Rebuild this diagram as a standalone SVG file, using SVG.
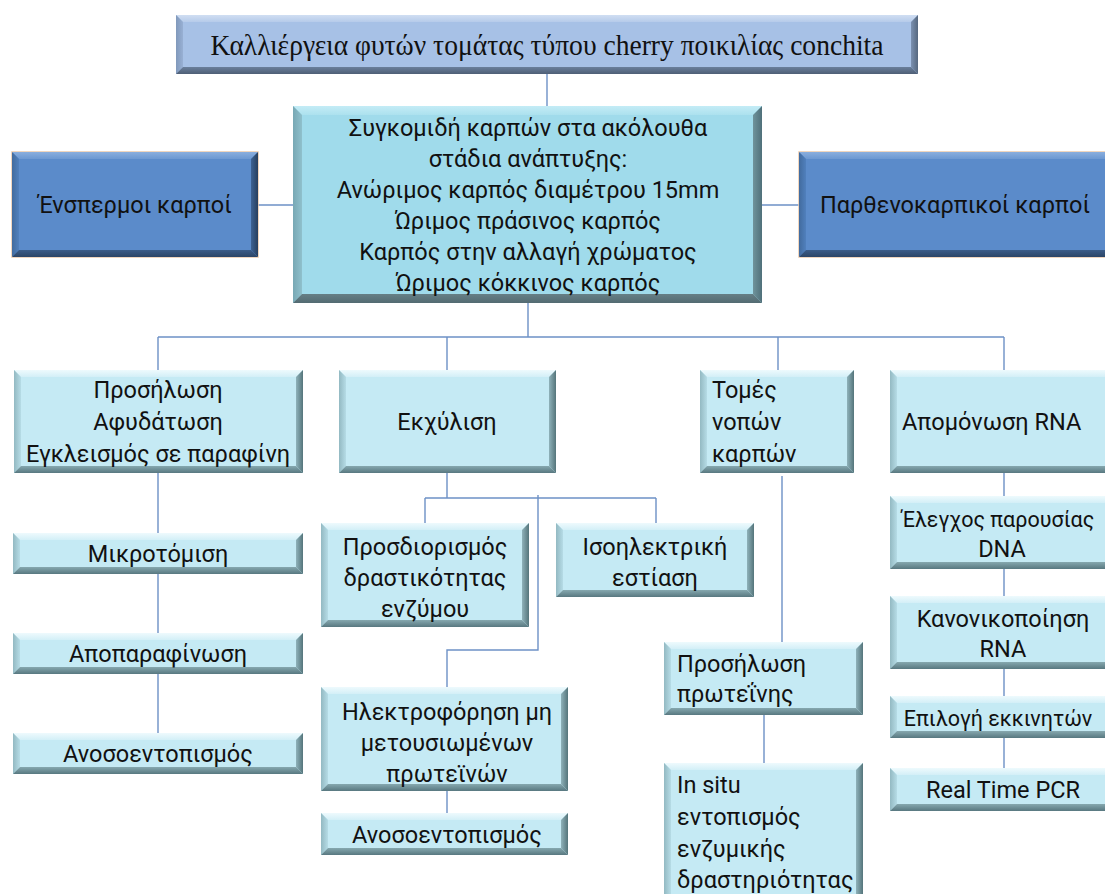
<svg xmlns="http://www.w3.org/2000/svg" width="1105" height="894" viewBox="0 0 1105 894">
<defs>
<linearGradient id="lT" x1="0" y1="0" x2="0" y2="1"><stop offset="0" stop-color="#eefafd"/><stop offset="1" stop-color="#d3eff7"/></linearGradient>
<linearGradient id="lL" x1="0" y1="0" x2="1" y2="0"><stop offset="0" stop-color="#93b9c2"/><stop offset="1" stop-color="#b6dce6"/></linearGradient>
<linearGradient id="lR" x1="0" y1="0" x2="1" y2="0"><stop offset="0" stop-color="#8fb2ba"/><stop offset="1" stop-color="#55757b"/></linearGradient>
<linearGradient id="lB" x1="0" y1="0" x2="0" y2="1"><stop offset="0" stop-color="#86a8af"/><stop offset="1" stop-color="#587880"/></linearGradient>
<linearGradient id="cT" x1="0" y1="0" x2="0" y2="1"><stop offset="0" stop-color="#c4ecf6"/><stop offset="1" stop-color="#ace1ee"/></linearGradient>
<linearGradient id="cL" x1="0" y1="0" x2="1" y2="0"><stop offset="0" stop-color="#78a8b4"/><stop offset="1" stop-color="#8fc0cc"/></linearGradient>
<linearGradient id="cR" x1="0" y1="0" x2="1" y2="0"><stop offset="0" stop-color="#6f939b"/><stop offset="1" stop-color="#50707a"/></linearGradient>
<linearGradient id="cB" x1="0" y1="0" x2="0" y2="1"><stop offset="0" stop-color="#667f86"/><stop offset="1" stop-color="#536b72"/></linearGradient>
<linearGradient id="tT" x1="0" y1="0" x2="0" y2="1"><stop offset="0" stop-color="#d0def2"/><stop offset="1" stop-color="#b6cbea"/></linearGradient>
<linearGradient id="tL" x1="0" y1="0" x2="1" y2="0"><stop offset="0" stop-color="#8199bb"/><stop offset="1" stop-color="#98b0d4"/></linearGradient>
<linearGradient id="tR" x1="0" y1="0" x2="1" y2="0"><stop offset="0" stop-color="#7b91b1"/><stop offset="1" stop-color="#56687f"/></linearGradient>
<linearGradient id="tB" x1="0" y1="0" x2="0" y2="1"><stop offset="0" stop-color="#6a7f9c"/><stop offset="1" stop-color="#4f5f76"/></linearGradient>
<linearGradient id="dT" x1="0" y1="0" x2="0" y2="1"><stop offset="0" stop-color="#8aaedd"/><stop offset="1" stop-color="#6c98d2"/></linearGradient>
<linearGradient id="dL" x1="0" y1="0" x2="1" y2="0"><stop offset="0" stop-color="#426b9e"/><stop offset="1" stop-color="#5080bd"/></linearGradient>
<linearGradient id="dR" x1="0" y1="0" x2="1" y2="0"><stop offset="0" stop-color="#3e6394"/><stop offset="1" stop-color="#273f5e"/></linearGradient>
<linearGradient id="dB" x1="0" y1="0" x2="0" y2="1"><stop offset="0" stop-color="#3b5c88"/><stop offset="1" stop-color="#2c4566"/></linearGradient>
</defs>
<style>
.l .f{fill:#c5eaf4}.l .t{fill:url(#lT)}.l .le{fill:url(#lL)}.l .r{fill:url(#lR)}.l .b{fill:url(#lB)}
.c .f{fill:#a0dbeb}.c .t{fill:url(#cT)}.c .le{fill:url(#cL)}.c .r{fill:url(#cR)}.c .b{fill:url(#cB)}
.tp .f{fill:#a7c1e6}.tp .t{fill:url(#tT)}.tp .le{fill:url(#tL)}.tp .r{fill:url(#tR)}.tp .b{fill:url(#tB)}
.d .f{fill:#5b8bca;stroke:#ecc9a9;stroke-width:1.5}.d .t{fill:url(#dT)}.d .le{fill:url(#dL)}.d .r{fill:url(#dR)}.d .b{fill:url(#dB)}
text{font-family:Roboto,"Noto Sans",sans-serif;font-size:23.5px;fill:#111}
.ser{font-family:"Liberation Serif","DejaVu Serif",serif;font-size:29px}
.m{text-anchor:middle}
.sm{font-size:21.5px}
#connectors path{fill:none;stroke:#6d91c6;stroke-width:1.4}
</style>

<g id="connectors">
<path d="M547 74V106"/>
<path d="M258 205H293"/>
<path d="M762 205H799"/>
<path d="M528 303V337M158 337H1004M158 337V370M447 337V370M778 337V370M1004 337V370"/>
<path d="M158 473V533M158 574V633M158 674V733"/>
<path d="M447 473V498M425 498H656M425 498V523M656 498V523"/>
<path d="M538 495V650H447V687M447 791V813"/>
<path d="M782 476V642M764 715V763"/>
<path d="M1004 473V496M1004 569V596M1004 669V696M1004 738V768"/>
</g>

<g id="n-top" class="tp">
<g transform="translate(176,15)"><rect class="f" width="742" height="59"/><polygon class="t" points="0,0 742,0 735,7 7,7"/><polygon class="le" points="0,0 7,7 7,52 0,59"/><polygon class="r" points="742,0 742,59 735,52 735,7"/><polygon class="b" points="0,59 742,59 735,52 7,52"/></g>
<text class="ser m" x="547" y="55" textLength="673" lengthAdjust="spacingAndGlyphs">Καλλιέργεια φυτών τομάτας τύπου cherry ποικιλίας conchita</text>
</g>

<g id="n-center" class="c">
<g transform="translate(293,106)"><rect class="f" width="469" height="197"/><polygon class="t" points="0,0 469,0 460,9 9,9"/><polygon class="le" points="0,0 9,9 9,188 0,197"/><polygon class="r" points="469,0 469,197 460,188 460,9"/><polygon class="b" points="0,197 469,197 460,188 9,188"/></g>
<text class="m" x="528" y="136">Συγκομιδή καρπών στα ακόλουθα</text>
<text class="m" x="528" y="167">στάδια ανάπτυξης:</text>
<text class="m" x="528" y="198">Ανώριμος καρπός διαμέτρου 15mm</text>
<text class="m" x="528" y="229">Ώριμος πράσινος καρπός</text>
<text class="m" x="528" y="260">Καρπός στην αλλαγή χρώματος</text>
<text class="m" x="528" y="291">Ώριμος κόκκινος καρπός</text>
</g>

<g id="n-seeded" class="d">
<g transform="translate(12,152)"><rect class="f" width="246" height="105"/><polygon class="t" points="0,0 246,0 239,7 7,7"/><polygon class="le" points="0,0 7,7 7,98 0,105"/><polygon class="r" points="246,0 246,105 239,98 239,7"/><polygon class="b" points="0,105 246,105 239,98 7,98"/></g>
<text class="m" x="135" y="213">Ένσπερμοι καρποί</text>
</g>

<g id="n-parth" class="d">
<g transform="translate(799,152)"><rect class="f" width="316" height="105"/><polygon class="t" points="0,0 316,0 309,7 7,7"/><polygon class="le" points="0,0 7,7 7,98 0,105"/><polygon class="r" points="316,0 316,105 309,98 309,7"/><polygon class="b" points="0,105 316,105 309,98 7,98"/></g>
<text class="m" x="955" y="213">Παρθενοκαρπικοί καρποί</text>
</g>

<g id="n-fix" class="l">
<g transform="translate(14,370)"><rect class="f" width="289" height="103"/><polygon class="t" points="0,0 289,0 282,7 7,7"/><polygon class="le" points="0,0 7,7 7,96 0,103"/><polygon class="r" points="289,0 289,103 282,96 282,7"/><polygon class="b" points="0,103 289,103 282,96 7,96"/></g>
<text class="m" x="158" y="398">Προσήλωση</text>
<text class="m" x="158" y="430">Αφυδάτωση</text>
<text class="m" x="158" y="462">Εγκλεισμός σε παραφίνη</text>
</g>

<g id="n-extr" class="l">
<g transform="translate(339,370)"><rect class="f" width="217" height="103"/><polygon class="t" points="0,0 217,0 210,7 7,7"/><polygon class="le" points="0,0 7,7 7,96 0,103"/><polygon class="r" points="217,0 217,103 210,96 210,7"/><polygon class="b" points="0,103 217,103 210,96 7,96"/></g>
<text class="m" x="447" y="430">Εκχύλιση</text>
</g>

<g id="n-sect" class="l">
<g transform="translate(700,370)"><rect class="f" width="154" height="103"/><polygon class="t" points="0,0 154,0 147,7 7,7"/><polygon class="le" points="0,0 7,7 7,96 0,103"/><polygon class="r" points="154,0 154,103 147,96 147,7"/><polygon class="b" points="0,103 154,103 147,96 7,96"/></g>
<text x="712" y="398">Τομές</text>
<text x="712" y="430">νοπών</text>
<text x="712" y="462">καρπών</text>
</g>

<g id="n-rna" class="l">
<g transform="translate(890,370)"><rect class="f" width="228" height="103"/><polygon class="t" points="0,0 228,0 221,7 7,7"/><polygon class="le" points="0,0 7,7 7,96 0,103"/><polygon class="r" points="228,0 228,103 221,96 221,7"/><polygon class="b" points="0,103 228,103 221,96 7,96"/></g>
<text x="902" y="430">Απομόνωση RNA</text>
</g>

<g id="n-micro" class="l">
<g transform="translate(13,533)"><rect class="f" width="290" height="41"/><polygon class="t" points="0,0 290,0 283,7 7,7"/><polygon class="le" points="0,0 7,7 7,34 0,41"/><polygon class="r" points="290,0 290,41 283,34 283,7"/><polygon class="b" points="0,41 290,41 283,34 7,34"/></g>
<text class="m" x="158" y="562">Μικροτόμιση</text>
</g>

<g id="n-depar" class="l">
<g transform="translate(13,633)"><rect class="f" width="290" height="41"/><polygon class="t" points="0,0 290,0 283,7 7,7"/><polygon class="le" points="0,0 7,7 7,34 0,41"/><polygon class="r" points="290,0 290,41 283,34 283,7"/><polygon class="b" points="0,41 290,41 283,34 7,34"/></g>
<text class="m" x="158" y="662">Αποπαραφίνωση</text>
</g>

<g id="n-immuno1" class="l">
<g transform="translate(13,733)"><rect class="f" width="290" height="41"/><polygon class="t" points="0,0 290,0 283,7 7,7"/><polygon class="le" points="0,0 7,7 7,34 0,41"/><polygon class="r" points="290,0 290,41 283,34 283,7"/><polygon class="b" points="0,41 290,41 283,34 7,34"/></g>
<text class="m" x="158" y="762">Ανοσοεντοπισμός</text>
</g>

<g id="n-activity" class="l">
<g transform="translate(321,523)"><rect class="f" width="208" height="104"/><polygon class="t" points="0,0 208,0 201,7 7,7"/><polygon class="le" points="0,0 7,7 7,97 0,104"/><polygon class="r" points="208,0 208,104 201,97 201,7"/><polygon class="b" points="0,104 208,104 201,97 7,97"/></g>
<text class="m" x="425" y="555">Προσδιορισμός</text>
<text class="m" x="425" y="586">δραστικότητας</text>
<text class="m" x="425" y="617">ενζύμου</text>
</g>

<g id="n-ief" class="l">
<g transform="translate(556,523)"><rect class="f" width="198" height="74"/><polygon class="t" points="0,0 198,0 191,7 7,7"/><polygon class="le" points="0,0 7,7 7,67 0,74"/><polygon class="r" points="198,0 198,74 191,67 191,7"/><polygon class="b" points="0,74 198,74 191,67 7,67"/></g>
<text class="m" x="655" y="555">Ισοηλεκτρική</text>
<text class="m" x="655" y="586">εστίαση</text>
</g>

<g id="n-electro" class="l">
<g transform="translate(321,687)"><rect class="f" width="247" height="104"/><polygon class="t" points="0,0 247,0 240,7 7,7"/><polygon class="le" points="0,0 7,7 7,97 0,104"/><polygon class="r" points="247,0 247,104 240,97 240,7"/><polygon class="b" points="0,104 247,104 240,97 7,97"/></g>
<text class="m" x="447" y="720">Ηλεκτροφόρηση μη</text>
<text class="m" x="447" y="751">μετουσιωμένων</text>
<text class="m" x="447" y="782">πρωτεϊνών</text>
</g>

<g id="n-immuno2" class="l">
<g transform="translate(321,813)"><rect class="f" width="247" height="42"/><polygon class="t" points="0,0 247,0 240,7 7,7"/><polygon class="le" points="0,0 7,7 7,35 0,42"/><polygon class="r" points="247,0 247,42 240,35 240,7"/><polygon class="b" points="0,42 247,42 240,35 7,35"/></g>
<text class="m" x="447" y="843">Ανοσοεντοπισμός</text>
</g>

<g id="n-protfix" class="l">
<g transform="translate(664,642)"><rect class="f" width="199" height="73"/><polygon class="t" points="0,0 199,0 192,7 7,7"/><polygon class="le" points="0,0 7,7 7,66 0,73"/><polygon class="r" points="199,0 199,73 192,66 192,7"/><polygon class="b" points="0,73 199,73 192,66 7,66"/></g>
<text x="677" y="672">Προσήλωση</text>
<text x="677" y="702">πρωτεΐνης</text>
</g>

<g id="n-insitu" class="l">
<g transform="translate(664,763)"><rect class="f" width="199" height="142"/><polygon class="t" points="0,0 199,0 192,7 7,7"/><polygon class="le" points="0,0 7,7 7,135 0,142"/><polygon class="r" points="199,0 199,142 192,135 192,7"/><polygon class="b" points="0,142 199,142 192,135 7,135"/></g>
<text x="677" y="793">In situ</text>
<text x="677" y="825">εντοπισμός</text>
<text x="677" y="857">ενζυμικής</text>
<text x="677" y="888">δραστηριότητας</text>
</g>

<g id="n-dna" class="l">
<g transform="translate(890,496)"><rect class="f" width="228" height="73"/><polygon class="t" points="0,0 228,0 221,7 7,7"/><polygon class="le" points="0,0 7,7 7,66 0,73"/><polygon class="r" points="228,0 228,73 221,66 221,7"/><polygon class="b" points="0,73 228,73 221,66 7,66"/></g>
<text class="m sm" x="998" y="527">Έλεγχος παρουσίας</text>
<text class="m" x="1002" y="557">DNA</text>
</g>

<g id="n-norm" class="l">
<g transform="translate(890,596)"><rect class="f" width="228" height="73"/><polygon class="t" points="0,0 228,0 221,7 7,7"/><polygon class="le" points="0,0 7,7 7,66 0,73"/><polygon class="r" points="228,0 228,73 221,66 221,7"/><polygon class="b" points="0,73 228,73 221,66 7,66"/></g>
<text class="m" x="1003" y="627">Κανονικοποίηση</text>
<text class="m" x="1003" y="657">RNA</text>
</g>

<g id="n-primers" class="l">
<g transform="translate(890,696)"><rect class="f" width="228" height="42"/><polygon class="t" points="0,0 228,0 221,7 7,7"/><polygon class="le" points="0,0 7,7 7,35 0,42"/><polygon class="r" points="228,0 228,42 221,35 221,7"/><polygon class="b" points="0,42 228,42 221,35 7,35"/></g>
<text class="m sm" x="998" y="726">Επιλογή εκκινητών</text>
</g>

<g id="n-pcr" class="l">
<g transform="translate(890,768)"><rect class="f" width="228" height="43"/><polygon class="t" points="0,0 228,0 221,7 7,7"/><polygon class="le" points="0,0 7,7 7,36 0,43"/><polygon class="r" points="228,0 228,43 221,36 221,7"/><polygon class="b" points="0,43 228,43 221,36 7,36"/></g>
<text class="m" x="1003" y="798">Real Time PCR</text>
</g>
</svg>
